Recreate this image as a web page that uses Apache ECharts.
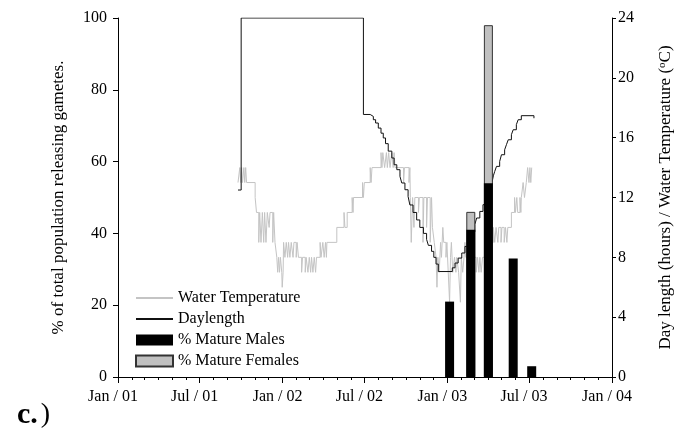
<!DOCTYPE html>
<html><head><meta charset="utf-8">
<script src="https://cdn.jsdelivr.net/npm/echarts@6/dist/echarts.min.js"></script>
<style>html,body{margin:0;padding:0;background:#fff}#c{width:677px;height:431px}</style>
</head><body><div id="c"></div>
<script>
// ---- data ----
const tickDates = ['2001-01-01','2001-07-01','2002-01-01','2002-07-01','2003-01-01','2003-07-01','2004-01-01'];
const tickLabels = ['Jan / 01','Jul / 01','Jan / 02','Jul / 02','Jan / 03','Jul / 03','Jan / 04'];
const sampleDates = ['2003-01-06','2003-02-22','2003-04-02','2003-05-27','2003-07-07'];
const maleValues = [21, 41, 54, 33, 3];
const femaleValues = [0, 5, 44, 0, 0];
const temperature = [
['2001-09-24',13],['2001-09-28',14],['2001-09-30',13],['2001-10-02',14],['2001-10-04',13],['2001-10-07',14],['2001-10-09',13],['2001-10-11',14],['2001-10-13',13],
['2001-11-01',12],['2001-11-04',11],['2001-11-09',9],['2001-11-11',11],['2001-11-14',9],['2001-11-17',11],['2001-11-20',9],['2001-11-22',11],['2001-11-25',9],['2001-11-28',11],
['2001-12-02',10],['2001-12-04',11],['2001-12-10',9],['2001-12-12',11],['2001-12-15',9],['2001-12-19',8],['2001-12-21',7],['2001-12-23',8],['2001-12-25',7],['2001-12-27',8],['2001-12-30',7],['2001-12-31',6],
['2002-01-02',7],['2002-01-03',9],['2002-01-06',8],['2002-01-09',9],['2002-01-12',8],['2002-01-14',9],['2002-01-17',8],['2002-01-20',9],['2002-01-24',8],['2002-01-26',9],['2002-01-31',8],
['2002-02-02',9],['2002-02-05',8],['2002-02-12',7],['2002-02-14',8],['2002-02-20',7],['2002-02-22',8],['2002-02-26',7],['2002-03-01',8],['2002-03-04',7],['2002-03-06',8],['2002-03-09',7],['2002-03-12',8],['2002-03-15',7],['2002-03-17',8],
['2002-03-25',9],['2002-03-27',8],['2002-03-31',9],['2002-04-03',8],['2002-04-06',9],['2002-04-08',8],['2002-04-09',9],
['2002-05-01',10],['2002-05-17',11],['2002-05-19',10],['2002-05-24',11],['2002-06-04',12],['2002-06-06',11],['2002-06-07',12],
['2002-06-27',13],['2002-06-29',12],['2002-07-01',13],['2002-07-14',14],['2002-07-16',13],['2002-07-18',14],
['2002-08-07',15],['2002-08-09',14],['2002-08-11',15],['2002-08-15',14],['2002-08-19',15],['2002-08-21',14],['2002-08-24',15],['2002-08-27',14],['2002-08-31',15],['2002-09-03',14],['2002-09-05',15],['2002-09-07',14],
['2002-09-26',13],['2002-09-28',14],['2002-10-08',13],['2002-10-10',14],['2002-10-11',12],['2002-10-13',9],['2002-10-16',12],['2002-10-19',10],['2002-10-21',12],['2002-10-29',11],['2002-10-31',12],
['2002-11-08',9],['2002-11-10',12],['2002-11-16',10],['2002-11-18',12],['2002-11-24',9],['2002-11-27',12],['2002-11-29',10],
['2002-12-03',9],['2002-12-07',8],['2002-12-09',6],['2002-12-11',8],['2002-12-14',7],['2002-12-17',9],['2002-12-19',8],['2002-12-22',10],['2002-12-24',9],['2002-12-29',8],['2002-12-31',9],
['2003-01-03',7],['2003-01-06',5],['2003-01-08',8],['2003-01-10',9],['2003-01-13',7],['2003-01-17',8],['2003-01-20',7],['2003-01-22',8],['2003-01-26',7],['2003-01-30',5],
['2003-02-01',8],['2003-02-04',7],['2003-02-07',8],['2003-02-09',9],['2003-02-11',8],['2003-02-20',9],['2003-02-27',8],
['2003-03-06',7],['2003-03-09',8],['2003-03-12',7],['2003-03-14',8],['2003-03-17',7],['2003-03-20',8],
['2003-04-01',9],['2003-04-13',10],['2003-04-16',9],['2003-04-19',10],['2003-04-23',9],['2003-04-25',10],['2003-04-30',9],
['2003-05-02',10],['2003-05-07',9],['2003-05-10',10],['2003-05-13',9],['2003-05-15',10],['2003-05-23',11],['2003-05-30',12],
['2003-06-01',11],['2003-06-04',12],['2003-06-06',11],['2003-06-11',12],['2003-06-13',11],['2003-06-14',12],['2003-06-18',13],['2003-06-21',12],['2003-06-25',13],['2003-06-28',14],
['2003-07-01',13],['2003-07-03',14],['2003-07-05',13],['2003-07-07',14]
];
const daylength = [
['2001-09-24',12.5],['2001-10-01',24],['2002-06-29',17.55],['2002-07-14',17.42],['2002-07-21',17.2],['2002-07-26',16.98],
['2002-08-01',16.64],['2002-08-07',16.3],['2002-08-12',15.98],['2002-08-17',15.6],['2002-08-23',15.1],['2002-08-31',14.64],
['2002-09-05',14.19],['2002-09-11',13.86],['2002-09-18',13.41],['2002-09-22',12.97],['2002-09-29',12.52],
['2002-10-06',12.07],['2002-10-10',11.5],['2002-10-17',11.0],['2002-10-25',10.5],['2002-11-01',10.0],['2002-11-09',9.6],
['2002-11-16',9.2],['2002-11-20',8.8],['2002-11-27',8.4],['2002-12-02',8.0],['2002-12-07',7.55],['2002-12-12',7.05],
['2003-01-12',7.3],['2003-01-18',7.62],['2003-01-25',7.95],['2003-02-02',8.29],['2003-02-09',8.73],['2003-02-16',9.2],
['2003-02-24',9.7],['2003-03-03',10.2],['2003-03-07',10.63],['2003-03-14',11.07],['2003-03-21',11.52],['2003-03-29',12.0],
['2003-04-05',12.5],['2003-04-10',13.0],['2003-04-13',13.45],['2003-04-16',13.74],['2003-04-20',14.08],['2003-04-27',14.41],
['2003-05-01',14.86],['2003-05-08',15.19],['2003-05-12',15.53],['2003-05-16',15.86],['2003-05-23',16.2],['2003-05-27',16.53],
['2003-06-03',16.87],['2003-06-07',17.2],['2003-06-14',17.47],['2003-07-12',17.47],['2003-07-12',17.3]
];

// ---- helpers ----
const DAY = 86400000;
const T0 = Date.UTC(2001, 0, 1);
function dayOf(s) { const p = s.split('-').map(Number); return (Date.UTC(p[0], p[1] - 1, p[2]) - T0) / DAY; }
const tickDays = tickDates.map(dayOf);
const monthDays = [];
for (let y = 2001; y <= 2003; y++) for (let m = 0; m < 12; m++) monthDays.push((Date.UTC(y, m, 1) - T0) / DAY);
monthDays.push(dayOf('2004-01-01'));

const FONT = 'Liberation Serif';
const chart = echarts.init(document.getElementById('c'), null, { renderer: 'canvas' });
chart.setOption({
  animation: false,
  backgroundColor: '#fff',
  textStyle: { fontFamily: FONT, color: '#000' },
  grid: { left: 118, right: 65, top: 18, bottom: 54, containLabel: false, outerBoundsMode: 'none' },
  legend: {
    orient: 'vertical', left: 130, top: 285, itemWidth: 37, itemHeight: 11, itemGap: 5,
    textStyle: { fontSize: 16, color: '#000', fontFamily: FONT },
    data: [
      { name: 'Water Temperature', itemStyle: { opacity: 0 } },
      { name: 'Daylength', itemStyle: { opacity: 0 } },
      { name: '% Mature Males', icon: 'rect' },
      { name: '% Mature Females', icon: 'rect' }
    ]
  },
  xAxis: [{
    type: 'value', min: 0, max: tickDays[tickDays.length - 1],
    axisLine: { show: true, onZero: false, lineStyle: { color: '#000', width: 1 } },
    axisTick: { show: true, customValues: tickDays, length: 6, lineStyle: { color: '#000' } },
    axisLabel: { customValues: tickDays, formatter: v => tickLabels[tickDays.indexOf(v)] || '',
      fontSize: 16, color: '#000', fontFamily: FONT, margin: 12, padding: [0, 10, 0, 0] },
    splitLine: { show: false }
  }, {
    type: 'value', min: 0, max: tickDays[tickDays.length - 1], position: 'bottom',
    axisLine: { show: false, onZero: false },
    axisTick: { show: true, customValues: monthDays, length: 3, lineStyle: { color: '#000' } },
    axisLabel: { show: false }, splitLine: { show: false }
  }],
  yAxis: [{
    type: 'value', position: 'left', min: 0, max: 100, interval: 20,
    name: '% of total population releasing gametes.', nameLocation: 'middle', nameGap: 51,
    nameTextStyle: { fontSize: 17, color: '#000', fontFamily: FONT },
    axisLine: { show: true, onZero: false, lineStyle: { color: '#000' } },
    axisTick: { show: true, length: 5, lineStyle: { color: '#000' } },
    axisLabel: { fontSize: 16, color: '#000', fontFamily: FONT, margin: 11 },
    splitLine: { show: false }
  }, {
    type: 'value', position: 'right', min: 0, max: 24, interval: 4,
    name: 'Day length (hours) / Water Temperature ({sup|o}C)', nameLocation: 'middle', nameGap: 45,
    nameTextStyle: { fontSize: 17, color: '#000', fontFamily: FONT,
      rich: { sup: { fontSize: 11, fontFamily: FONT, color: '#000', verticalAlign: 'top' } } },
    axisLine: { show: true, onZero: false, lineStyle: { color: '#000' } },
    axisTick: { show: true, length: 4, lineStyle: { color: '#000' } },
    axisLabel: { fontSize: 16, color: '#000', fontFamily: FONT, margin: 6 },
    splitLine: { show: false }
  }],
  graphic: [{
    type: 'text', left: 17, top: 400,
    style: { text: '{b|c.}{n|)}', fill: '#000',
      rich: { b: { fontSize: 30, fontWeight: 'bold', fontFamily: FONT, fill: '#000' },
              n: { fontSize: 28, fontFamily: FONT, fill: '#000', padding: [0, 0, 0, 3] } } }
  }],
  series: [{
    name: 'Water Temperature', type: 'line', xAxisIndex: 0, yAxisIndex: 1, step: 'end', symbol: 'none',
    lineStyle: { color: '#c4c4c4', width: 1 }, itemStyle: { color: '#c4c4c4' }, z: 2,
    data: temperature.map(p => [dayOf(p[0]), p[1]])
  }, {
    name: 'Daylength', type: 'line', xAxisIndex: 0, yAxisIndex: 1, step: 'end', symbol: 'none',
    lineStyle: { color: '#111', width: 1 }, itemStyle: { color: '#111' }, z: 2,
    data: daylength.map(p => [dayOf(p[0]), p[1]])
  }, {
    name: '% Mature Females', type: 'bar', xAxisIndex: 0, yAxisIndex: 0, barWidth: 9, barGap: '-100%', z: 3,
    itemStyle: { color: '#c0c0c0', borderColor: '#333', borderWidth: 1 },
    data: sampleDates.map((d, i) => femaleValues[i] > 0 ? [dayOf(d), maleValues[i] + femaleValues[i]] : null).filter(Boolean)
  }, {
    name: '% Mature Males', type: 'bar', xAxisIndex: 0, yAxisIndex: 0, barWidth: 9, barGap: '-100%', z: 4,
    itemStyle: { color: '#000', borderColor: '#000', borderWidth: 0 },
    data: sampleDates.map((d, i) => [dayOf(d), maleValues[i]])
  }]
});
</script></body></html>
